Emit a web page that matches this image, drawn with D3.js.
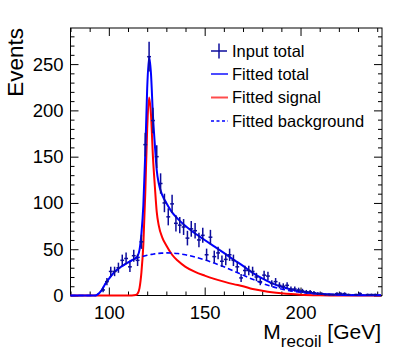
<!DOCTYPE html>
<html>
<head>
<meta charset="utf-8">
<script src="https://cdn.jsdelivr.net/npm/d3@7"></script>
<style>
body { margin: 0; background: #fff; }
svg { display: block; font-family: "Liberation Sans", Arial, sans-serif; }
</style>
</head>
<body>
<svg></svg>
<script>
// histogram: 2 GeV bins, centres
var binCenters = [97, 99, 101, 103, 105, 107, 109, 111, 113, 115, 117, 119, 121, 123, 125, 127, 129, 131, 133, 135,
                  137, 139, 141, 143, 145, 147, 149, 151, 153, 155, 157, 159, 161, 163, 165, 167, 169, 171, 173, 175,
                  177, 179, 181, 183, 185, 187, 189, 191, 193, 195, 197, 199, 201, 203, 205, 207, 209, 211, 213, 215,
                  217, 219, 221, 223, 225, 227, 229, 231, 233, 235, 237, 239, 241];
var binCounts = [6, 15, 26, 26, 30, 38, 40, 31, 43, 38, 58, 163, 258, 189, 150, 121, 100, 85, 99, 78,
                 76, 74, 62, 72, 70, 60, 65, 44, 63, 42, 46, 37, 39, 44, 38, 31, 19, 27, 27, 26,
                 20, 15, 22, 21, 13, 15, 11, 10, 11, 7, 7, 6, 5, 4, 4, 3, 2, 2, 1, 1,
                 1, 2, 2, 2, 1, 0, 1, 2, 0, 1, 1, 1, 0];

// fitted curves sampled at fitMass
var fitMass = [80, 93, 94, 96, 98, 100, 103, 106, 109, 112, 114, 115, 116, 117, 118, 119, 120, 121, 122, 123,
               124, 125, 126, 128, 130, 133, 136, 140, 145, 150, 155, 160, 165, 170, 175, 180, 185, 190, 195, 200,
               210, 220, 230, 242];
var fitBackground = [0, 0, 1, 5, 12, 18, 25.5, 30.5, 34.5, 38, 40, 40.7, 41.3, 42, 42.5, 43, 43.5, 44, 44.3, 44.6,
                     45, 45.2, 45.5, 45.8, 46, 45.8, 45.3, 44, 41.5, 38.5, 35, 31, 26.5, 22, 17.5, 13.3, 9.8, 7, 5, 3.5,
                     1.7, 0.8, 0.4, 0.2];
var fitSignal = [0, 0, 0, 0, 0, 0, 0, 0, 0, 0, 0.5, 2, 8, 25, 55, 110, 180, 214, 195, 150,
                 118, 90, 76, 62, 54, 44, 37.5, 31, 25.5, 21.5, 18, 15, 12.3, 10, 7, 5.2, 3.6, 2.4, 1.5, 0.9,
                 0.3, 0.1, 0, 0];
var fitTotal = [0, 0, 1, 5, 12, 18, 25.5, 30.5, 34.5, 38, 40.5, 42.7, 49.3, 67, 97.5, 153, 223.5, 258, 239.3, 194.6,
                163, 135.2, 121.5, 107.8, 100, 89.8, 82.8, 75, 67, 60, 53, 46, 38.8, 32, 24.5, 18.5, 13.4, 9.4, 6.5, 4.4,
                2, 0.9, 0.4, 0.2];

var xMajor = [100, 150, 200];
var xMinor = [80, 90, 110, 120, 130, 140, 160, 170, 180, 190, 210, 220, 230, 240];
var yMajor = [0, 50, 100, 150, 200, 250];
var yMinor = [10, 20, 30, 40, 60, 70, 80, 90, 110, 120, 130, 140, 160, 170, 180, 190, 210, 220, 230, 240, 260, 270, 280];

var legendLabels = ["Input total", "Fitted total", "Fitted signal", "Fitted background"];

var binWidth = 2;

function chart(){
    var width = 415,
        height = 361;
    var left = 70.5, right = 382, top = 28, bottom = 295.5;

    var x = d3.scaleLinear().domain([80, 242.5]).range([left, right]);
    var y = d3.scaleLinear().domain([0, 289]).range([bottom, top]);

    var svg = d3.select("svg")
        .attr("width", width)
        .attr("height", height);

    var dataColor = "#0c0c9c",
        totalColor = "#0000ff",
        signalColor = "#ff0000";

    // axes, ticks pointing inside the frame
    function addAxis(gen, tx, ty, vals, size, labels) {
        var g = svg.append("g")
            .attr("transform", "translate(" + tx + "," + ty + ")")
            .call(gen.tickValues(vals).tickSize(size).tickFormat(labels ? d3.format("d") : ""));
        g.select(".domain").remove();
        g.selectAll("line").attr("stroke", "#000");
        return g;
    }

    var xb = addAxis(d3.axisBottom(x).tickPadding(10), 0, bottom, xMajor, -8, true);
    addAxis(d3.axisBottom(x), 0, bottom, xMinor, -4, false);
    addAxis(d3.axisTop(x), 0, top, xMajor, -8, false);
    addAxis(d3.axisTop(x), 0, top, xMinor, -4, false);
    var yl = addAxis(d3.axisLeft(y).tickPadding(7), left, 0, yMajor, -8, true);
    addAxis(d3.axisLeft(y), left, 0, yMinor, -4, false);
    addAxis(d3.axisRight(y), right, 0, yMajor, -8, false);
    addAxis(d3.axisRight(y), right, 0, yMinor, -4, false);

    xb.selectAll("text").attr("font-size", 18.5).attr("fill", "#000").attr("font-family", null);
    yl.selectAll("text").attr("font-size", 18.5).attr("fill", "#000").attr("font-family", null);

    svg.append("rect")
        .attr("x", left).attr("y", top)
        .attr("width", right - left).attr("height", bottom - top)
        .attr("fill", "none").attr("stroke", "#000").attr("stroke-width", 1);

    // fitted curves
    var pts = fitMass.map(function(m, i) {
        return {m: m, s: fitSignal[i], b: fitBackground[i], t: fitTotal[i]};
    });
    function lineOf(key) {
        return d3.line()
            .x(function(d) { return x(d.m); })
            .y(function(d) { return y(d[key]); })
            .curve(d3.curveMonotoneX);
    }

    svg.append("path").datum(pts)
        .attr("d", lineOf("s"))
        .attr("fill", "none").attr("stroke", signalColor).attr("stroke-width", 2);
    svg.append("path").datum(pts)
        .attr("d", lineOf("t"))
        .attr("fill", "none").attr("stroke", totalColor).attr("stroke-width", 2);
    svg.append("path").datum(pts)
        .attr("d", lineOf("b"))
        .attr("fill", "none").attr("stroke", totalColor).attr("stroke-width", 1.6)
        .attr("stroke-dasharray", "5,3");

    // data points with sqrt(N) errors
    var bins = binCenters.map(function(c, i) { return {c: c, n: binCounts[i]}; })
        .filter(function(d) { return d.n > 0; });

    var point = svg.selectAll(".point")
        .data(bins)
        .enter().append("g")
        .attr("class", "point")
        .attr("stroke", dataColor)
        .attr("stroke-width", 1.5);

    point.append("line")
        .attr("x1", function(d) { return x(d.c - binWidth / 2); })
        .attr("x2", function(d) { return x(d.c + binWidth / 2); })
        .attr("y1", function(d) { return y(d.n); })
        .attr("y2", function(d) { return y(d.n); });
    point.append("line")
        .attr("x1", function(d) { return x(d.c); })
        .attr("x2", function(d) { return x(d.c); })
        .attr("y1", function(d) { return y(d.n - Math.sqrt(d.n)); })
        .attr("y2", function(d) { return y(d.n + Math.sqrt(d.n)); });

    // legend
    var lg = svg.append("g").attr("transform", "translate(211,0)");
    var rowY = [51, 74, 97.5, 121];
    lg.append("line").attr("x1", 0).attr("x2", 16).attr("y1", rowY[0]).attr("y2", rowY[0])
        .attr("stroke", dataColor).attr("stroke-width", 1.5);
    lg.append("line").attr("x1", 8).attr("x2", 8).attr("y1", rowY[0] - 7.5).attr("y2", rowY[0] + 7.5)
        .attr("stroke", dataColor).attr("stroke-width", 1.5);
    lg.append("line").attr("x1", 0).attr("x2", 17).attr("y1", rowY[1]).attr("y2", rowY[1])
        .attr("stroke", totalColor).attr("stroke-width", 2).attr("stroke-opacity", 0.7);
    lg.append("line").attr("x1", 0).attr("x2", 17).attr("y1", rowY[2]).attr("y2", rowY[2])
        .attr("stroke", signalColor).attr("stroke-width", 2).attr("stroke-opacity", 0.7);
    lg.append("line").attr("x1", 0).attr("x2", 17).attr("y1", rowY[3]).attr("y2", rowY[3])
        .attr("stroke", totalColor).attr("stroke-width", 1.3).attr("stroke-dasharray", "3,2.5");

    lg.selectAll(".lab")
        .data(legendLabels)
        .enter().append("text")
        .attr("class", "lab")
        .attr("x", 21)
        .attr("y", function(d, i) { return rowY[i] + 5.5; })
        .attr("font-size", 16.5)
        .text(function(d) { return d; });

    // axis titles
    var xt = svg.append("text")
        .attr("x", 381).attr("y", 338.5)
        .attr("text-anchor", "end")
        .attr("font-size", 21);
    xt.append("tspan").text("M");
    xt.append("tspan").attr("font-size", 17).attr("dy", 8).text("recoil");
    xt.append("tspan").attr("dy", -8).text(" [GeV]");

    svg.append("text")
        .attr("transform", "translate(23,28) rotate(-90)")
        .attr("text-anchor", "end")
        .attr("font-size", 22.5)
        .text("Events");
}

chart();
</script>
</body>
</html>
